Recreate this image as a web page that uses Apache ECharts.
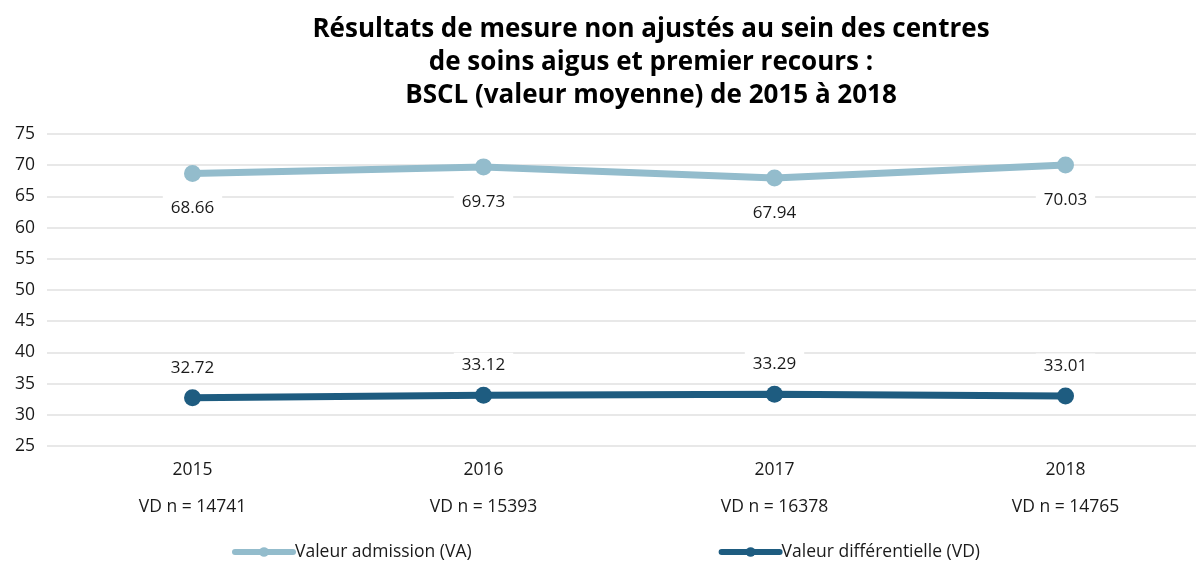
<!DOCTYPE html>
<html>
<head>
<meta charset="utf-8">
<script src="https://cdn.jsdelivr.net/npm/echarts@6/dist/echarts.min.js"></script>
<style>
  html, body { margin: 0; padding: 0; background: #fff; }
  #chart { width: 1196px; height: 563px; }
</style>
</head>
<body>
<div id="chart"></div>
<script>
// données
const years = ['2015', '2016', '2017', '2018']
const vdCounts = [14741, 15393, 16378, 14765]
const admissionValues = [68.66, 69.73, 67.94, 70.03]
const differentialValues = [32.72, 33.12, 33.29, 33.01]
const seriesNames = ['Valeur admission (VA)', 'Valeur différentielle (VD)']

const font = '"Open Sans", "Noto Sans", sans-serif'
const categories = years.map((y, i) => y + '\nVD n = ' + vdCounts[i])

const chart = echarts.init(document.getElementById('chart'))

const labelStyle = {
  show: true,
  fontFamily: font,
  fontSize: 17,
  color: '#1a1a1a',
  backgroundColor: '#fff',
  padding: [4, 8],
  formatter: p => p.value.toFixed(2)
}

const option = {
  animation: false,
  title: {
    text: 'Résultats de mesure non ajustés au sein des centres\nde soins aigus et premier recours :\nBSCL (valeur moyenne) de 2015 à 2018',
    left: 646,
    textAlign: 'center',
    top: 8,
    textStyle: {
      fontFamily: font,
      fontSize: 26,
      fontWeight: 'bold',
      color: '#000',
      lineHeight: 33
    }
  },
  legend: {
    bottom: -3,
    left: 227,
    itemGap: 247,
    itemWidth: 58,
    itemHeight: 12,
    lineStyle: { width: 6, cap: 'round' },
    textStyle: { fontFamily: font, fontSize: 17.5, color: '#1a1a1a', padding: [0, 0, 0, -3] },
    data: seriesNames
  },
  grid: {
    left: 47,
    right: -15,
    top: 134,
    height: 312,
    outerBoundsMode: 'none'
  },
  xAxis: {
    type: 'category',
    data: categories,
    axisLine: { show: false },
    axisTick: { show: false },
    axisLabel: {
      fontFamily: font,
      fontSize: 17.5,
      color: '#1a1a1a',
      lineHeight: 37,
      margin: 6
    }
  },
  yAxis: {
    type: 'value',
    min: 25,
    max: 75,
    interval: 5,
    axisLine: { show: false },
    axisTick: { show: false },
    axisLabel: {
      fontFamily: font,
      fontSize: 17.5,
      color: '#1a1a1a',
      margin: 12
    },
    splitLine: { lineStyle: { color: '#e0e0e0', width: 1.5 } }
  },
  series: [
    {
      name: seriesNames[0],
      type: 'line',
      data: admissionValues,
      color: '#93bccc',
      symbol: 'circle',
      symbolSize: 17,
      lineStyle: { width: 7 },
      label: Object.assign({}, labelStyle, { position: 'bottom', distance: 14 }),
      z: 3
    },
    {
      name: seriesNames[1],
      type: 'line',
      data: differentialValues,
      color: '#1e5c80',
      symbol: 'circle',
      symbolSize: 17,
      lineStyle: { width: 7 },
      label: Object.assign({}, labelStyle, { position: 'top', distance: 9 }),
      z: 3
    }
  ]
}

chart.setOption(option)
</script>
</body>
</html>
